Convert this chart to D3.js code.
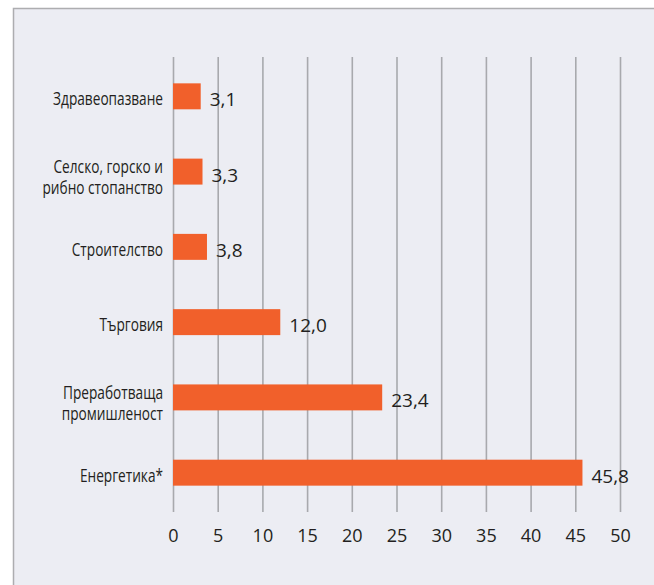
<!DOCTYPE html>
<html>
<head>
<meta charset="utf-8">
<script src="https://cdn.jsdelivr.net/npm/d3@7"></script>
<style>
  body { margin: 0; background: #fff; }
  svg { display: block; }
</style>
</head>
<body>
<svg width="654" height="585"></svg>
<script>
// data
const sectors = [
    "Здравеопазване",
    "Селско, горско и\nрибно стопанство",
    "Строителство",
    "Търговия",
    "Преработваща\nпромишленост",
    "Енергетика*"
];
const shares = [3.1, 3.3, 3.8, 12.0, 23.4, 45.8];
const xTicks = [0, 5, 10, 15, 20, 25, 30, 35, 40, 45, 50];

const svg = d3.select("svg");

// panel
svg.append("rect")
    .attr("x", 13.5)
    .attr("y", 8.5)
    .attr("width", 700)
    .attr("height", 650)
    .attr("fill", "#ecedf3")
    .attr("stroke", "#adadb0")
    .attr("stroke-width", 1.5);

const gridTop = 57, gridBottom = 512;

const x = d3.scaleLinear()
    .domain([0, 50])
    .range([173, 620]);

const y = d3.scaleBand()
    .domain(sectors)
    .range([gridTop, gridBottom])
    .paddingInner(0.655)
    .paddingOuter(0.35);

// grid + tick labels
const axis = svg.append("g")
    .attr("transform", "translate(0," + gridBottom + ")")
    .call(d3.axisBottom(x)
        .tickValues(xTicks)
        .tickSize(-(gridBottom - gridTop))
        .tickPadding(17)
        .tickFormat(d3.format("d")));

axis.select(".domain").remove();
axis.selectAll(".tick line")
    .attr("stroke", "#a8a9ad")
    .attr("stroke-width", 1.6);
axis.selectAll(".tick text")
    .attr("fill", "#231f20")
    .attr("font-family", "'Open Sans', sans-serif")
    .attr("font-size", "18px");

// bars
svg.selectAll(".bar")
    .data(sectors)
    .enter().append("rect")
    .attr("class", "bar")
    .attr("x", x(0))
    .attr("y", function (d) { return y(d); })
    .attr("width", function (d, i) { return x(shares[i]) - x(0); })
    .attr("height", y.bandwidth())
    .attr("fill", "#f1602b");

// value labels
const fmt = d3.format(".1f");
svg.selectAll(".val")
    .data(sectors)
    .enter().append("text")
    .attr("class", "val")
    .attr("x", function (d, i) { return x(shares[i]) + 9; })
    .attr("y", function (d) { return y(d) + y.bandwidth() / 2 + 10; })
    .attr("fill", "#231f20")
    .attr("font-family", "'Open Sans', sans-serif")
    .attr("font-size", "19px")
    .text(function (d, i) { return fmt(shares[i]).replace(".", ","); });

// category labels (condensed look: squeeze horizontally)
const labelX = 163;
const catG = svg.append("g");
const cat = catG.selectAll(".cat")
    .data(sectors)
    .enter().append("text")
    .attr("class", "cat")
    .attr("text-anchor", "end")
    .attr("fill", "#231f20")
    .attr("font-family", "'Open Sans', sans-serif")
    .attr("font-size", "18.5px");

cat.each(function (d) {
    const lines = d.split("\n");
    const cy = y(d) + y.bandwidth() / 2;
    const lh = 20.5;
    const first = cy + 9 - (lines.length - 1) * lh / 2 + (lines.length > 1 ? 3 : 0);
    d3.select(this).selectAll("tspan")
        .data(lines)
        .enter().append("tspan")
        .attr("x", 0)
        .attr("y", function (l, j) { return first + j * lh; })
        .text(function (l) { return l; });
});

// first label is ~110px wide in the original
const w0 = cat.filter(function (d, i) { return i === 0; }).node().getComputedTextLength();
const sx = 110 / w0;
cat.attr("transform", "translate(" + labelX + ",0) scale(" + sx + ",1)");
</script>
</body>
</html>
